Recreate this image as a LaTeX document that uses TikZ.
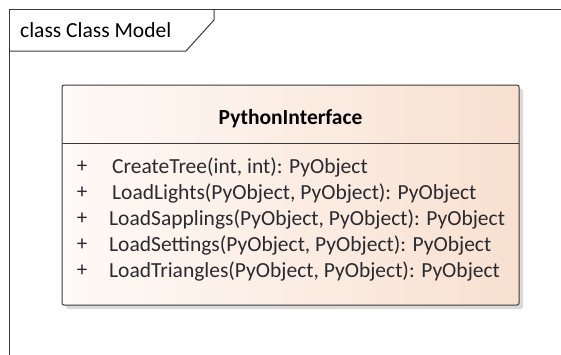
\documentclass[tikz,border=0pt]{standalone}
\usepackage{fontspec}
\setmainfont{Carlito}
\definecolor{framecol}{HTML}{3A3A3A}
\definecolor{boxleft}{HTML}{FEFAF7}
\definecolor{boxright}{HTML}{F8E0D0}
\definecolor{txtcol}{HTML}{2A2A30}
\tikzset{
  frameline/.style={draw=framecol, line width=1.3pt},
  classbox/.style={draw=framecol, line width=1pt, rounded corners=2pt},
  opsign/.style={anchor=center, text=txtcol, font=\fontsize{21}{24}\selectfont, inner sep=0pt},
  optext/.style={anchor=west, text=txtcol, font=\fontsize{21.5}{24}\selectfont, inner sep=0pt},
}
\begin{document}
\begin{tikzpicture}[x=1pt, y=-1pt]
  \useasboundingbox (0,0) rectangle (561,354);
  % diagram frame with its name tab
  \draw[frameline] (9.5,360) -- (9.5,9.5) -- (565,9.5);
  \draw[frameline, line width=1pt] (9.5,51) -- (186,51) -- (214,20) -- (214,9.5);
  \node[anchor=west, inner sep=0pt, text=black, font=\fontsize{21.5}{24}\selectfont] (frametitle) at (20,30) {class Class Model};
  % class shadow
  \fill[black!14, rounded corners=2pt] (66,89) rectangle (523,309);
  % class body
  \shade[left color=boxleft, right color=boxright, rounded corners=2pt] (62,85) rectangle (519,305);
  \draw[classbox] (62,85) rectangle (519,305);
  \draw[framecol, line width=0.9pt] (62,143) -- (519,143);
  \node[inner sep=0pt, text=black, font=\bfseries\fontsize{21.5}{24}\selectfont] (classname) at (290.5,119) {PythonInterface};
  % operations
  \node[opsign] (s1) at (82,167) {+};
  \node[opsign] (s2) at (82,193) {+};
  \node[opsign] (s3) at (82,219) {+};
  \node[opsign] (s4) at (82,245) {+};
  \node[opsign] (s5) at (82,271) {+};
  \node[optext] (o1) at (112,167) {CreateTree(int, int): PyObject};
  \node[optext] (o2) at (112,193) {LoadLights(PyObject, PyObject): PyObject};
  \node[optext] (o3) at (109,219) {LoadSapplings(PyObject, PyObject): PyObject};
  \node[optext] (o4) at (109,245) {LoadSettings(PyObject, PyObject): PyObject};
  \node[optext] (o5) at (109,271) {LoadTriangles(PyObject, PyObject): PyObject};
\end{tikzpicture}
\end{document}
